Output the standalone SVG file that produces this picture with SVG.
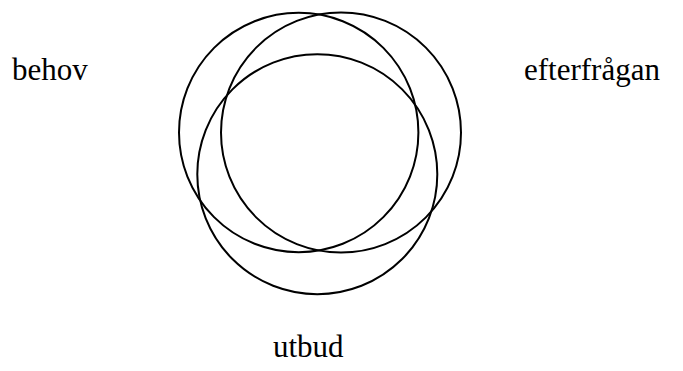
<svg xmlns="http://www.w3.org/2000/svg" width="683" height="371" viewBox="0 0 683 371">
<style>
.c{fill:none;stroke:#000;stroke-width:2}
.t{font-family:'Liberation Serif','Times New Roman','DejaVu Serif',serif;font-size:31px;fill:#000}
</style>
<rect width="683" height="371" fill="#fff"/>
<g id="circles">
<g id="circle-left"><circle class="c" cx="298.7" cy="132.5" r="119.7"/></g>
<g id="circle-right"><circle class="c" cx="341" cy="132.5" r="120"/></g>
<g id="circle-bottom"><circle class="c" cx="317.3" cy="174.2" r="120"/></g>
</g>
<g id="label-behov"><text class="t" x="12" y="80">behov</text></g>
<g id="label-efterfragan"><text class="t" x="524" y="80">efterfrågan</text></g>
<g id="label-utbud"><text class="t" x="273" y="357">utbud</text></g>
</svg>
